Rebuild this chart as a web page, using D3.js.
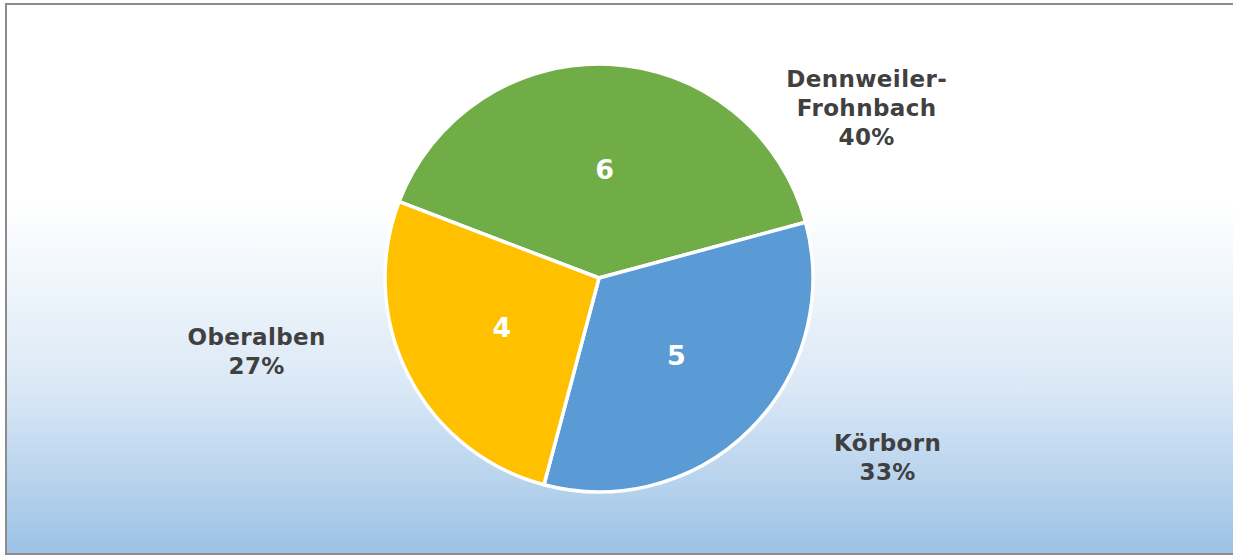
<!DOCTYPE html>
<html>
<head>
<meta charset="utf-8">
<title>Pie</title>
<style>
  body { margin: 0; background: #fff; }
  svg { display: block; }
</style>
</head>
<body>
<svg width="1233" height="556"></svg>
<script src="https://d3js.org/d3.v7.min.js"></script>
<script>
// data
const names = ["Dennweiler-Frohnbach", "Körborn", "Oberalben"];
const values = [6, 5, 4];
const labelLines = [["Dennweiler-", "Frohnbach"], ["Körborn"], ["Oberalben"]];
const colors = ["#70ad47", "#5b9bd5", "#ffc000"];

// layout of the outside labels (angle from 12 o'clock in degrees, distance from centre)
const labelAngle = [57.6, 121.9, -102];
const labelDist = [317, 340, 350];

const width = 1233, height = 556;
const cx = 599, cy = 278, radius = 214;
const font = "DejaVu Sans, Verdana, sans-serif";

const svg = d3.select("svg");

// background gradient like the excel chart area
const defs = svg.append("defs");
const grad = defs.append("linearGradient")
    .attr("id", "bg").attr("x1", 0).attr("y1", 0).attr("x2", 0).attr("y2", 1);
grad.append("stop").attr("offset", "0%").attr("stop-color", "#ffffff");
grad.append("stop").attr("offset", "36%").attr("stop-color", "#ffffff");
grad.append("stop").attr("offset", "70%").attr("stop-color", "#dae8f6");
grad.append("stop").attr("offset", "100%").attr("stop-color", "#9cc2e6");

svg.append("rect")
    .attr("x", 6).attr("y", 4)
    .attr("width", width + 20).attr("height", 550)
    .attr("fill", "url(#bg)")
    .attr("stroke", "#8c8c8c")
    .attr("stroke-width", 2);

const total = d3.sum(values);
const startA = -69.1 * Math.PI / 180;

const pie = d3.pie().sort(null)
    .startAngle(startA)
    .endAngle(startA + 2 * Math.PI);

const arcs = pie(values);
const arc = d3.arc().innerRadius(0).outerRadius(radius);
const inner = d3.arc().innerRadius(radius * 0.51).outerRadius(radius * 0.51);

const g = svg.append("g").attr("transform", `translate(${cx},${cy})`);

g.selectAll("path")
  .data(arcs)
  .join("path")
    .attr("d", arc)
    .attr("fill", (d, i) => colors[i])
    .attr("stroke", "#fff")
    .attr("stroke-width", 3.5)
    .attr("stroke-linejoin", "round");

g.selectAll("text.val")
  .data(arcs)
  .join("text")
    .attr("class", "val")
    .attr("transform", d => `translate(${inner.centroid(d)})`)
    .attr("dy", "0.36em")
    .attr("text-anchor", "middle")
    .attr("font-family", font)
    .attr("font-weight", "bold")
    .attr("font-size", 27)
    .attr("fill", "#fff")
    .text(d => d.data);

// outside category labels
const lineH = 29;
g.selectAll("text.cat")
  .data(arcs)
  .join("text")
    .attr("class", "cat")
    .attr("text-anchor", "middle")
    .attr("font-family", font)
    .attr("font-weight", "bold")
    .attr("font-size", 23)
    .attr("letter-spacing", 0.4)
    .attr("fill", "#404040")
    .each(function(d, i) {
      const lines = labelLines[i].concat([Math.round(d.data / total * 100) + "%"]);
      const a = labelAngle[i] * Math.PI / 180;
      const x = Math.sin(a) * labelDist[i];
      const y = -Math.cos(a) * labelDist[i];
      const t = d3.select(this);
      const y0 = y - (lines.length - 1) * lineH / 2;
      lines.forEach((s, k) => {
        t.append("tspan").attr("x", x).attr("y", y0 + k * lineH).attr("dy", "0.36em").text(s);
      });
    });
</script>
</body>
</html>
